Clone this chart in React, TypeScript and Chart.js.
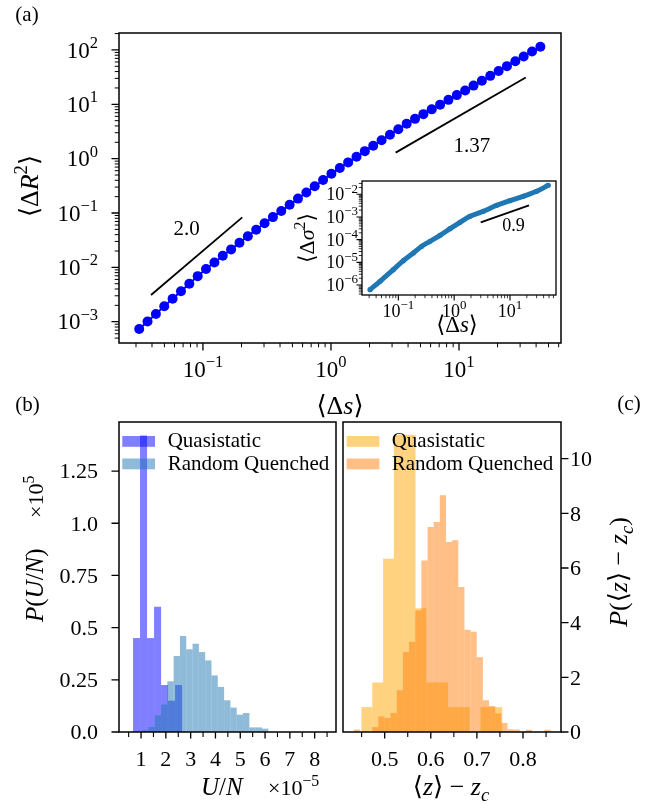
import React, { useEffect, useRef } from "react";
import { Chart, registerables } from "chart.js";

Chart.register(...registerables);

const FONT = '"Liberation Serif", "DejaVu Serif", serif';

// ---------- Panel (a): main log-log curve ----------
const dsX = [0.03177, 0.03693, 0.04291, 0.04987, 0.05796, 0.06736, 0.07829, 0.09099, 0.1057, 0.1229, 0.1428, 0.166, 0.1929, 0.2242, 0.2606, 0.3029, 0.352, 0.4091, 0.4755, 0.5526, 0.6422, 0.7464, 0.8675, 1.008, 1.172, 1.362, 1.583, 1.839, 2.138, 2.485, 2.888, 3.356, 3.9, 4.533, 5.268, 6.123, 7.116, 8.27, 9.611, 11.17, 12.98, 15.09, 17.54, 20.38, 23.68, 27.53, 31.99, 37.18, 43.21];
const dR2 = [0.000735, 0.00101, 0.00139, 0.00192, 0.00264, 0.00364, 0.00501, 0.0069, 0.00935, 0.0123, 0.0163, 0.0214, 0.0283, 0.0373, 0.0492, 0.0649, 0.0841, 0.109, 0.142, 0.184, 0.238, 0.31, 0.405, 0.527, 0.671, 0.853, 1.086, 1.374, 1.734, 2.188, 2.761, 3.483, 4.395, 5.395, 6.592, 8.072, 9.863, 12.08, 14.76, 17.95, 22.08, 27.16, 33.34, 41.02, 50.35, 61.94, 76.03, 93.54, 114.8];
const slope2X = [0.0393, 0.2027];
const slope2Y = [0.0031, 0.083];
const slope137X = [3.2, 33.2];
const slope137Y = [1.29, 31];
const aXRange = [0.0221, 62.6];
const aYRange = [4.06e-4, 205];
const aXTicks = [0.1, 1, 10];
const aXTickExp = ["\u22121", "0", "1"];
const aYTicks = [1e-3, 1e-2, 1e-1, 1, 10, 100];
const aYTickExp = ["\u22123", "\u22122", "\u22121", "0", "1", "2"];

// ---------- Inset ----------
const insX = [0.0311, 0.047, 0.0813, 0.123, 0.1858, 0.2624, 0.3698, 0.5585, 0.8433, 1.274, 1.923, 3.327, 5.781, 10.0, 17.3, 30.06, 48.53];
const insY = [6.21e-7, 1.455e-6, 4.73e-6, 1.18e-5, 2.576e-5, 5.09e-5, 8.45e-5, 1.556e-4, 3.04e-4, 5.82e-4, 1.072e-3, 1.778e-3, 3.27e-3, 5.22e-3, 8.17e-3, 1.355e-2, 2.49e-2];
const slope09X = [2.99, 21.9];
const slope09Y = [5.82e-4, 3.27e-3];
const insXRange = [0.02234, 66.7];
const insYRange = [3.63e-7, 0.0385];
const insXTicks = [0.1, 1, 10];
const insXTickExp = ["\u22121", "0", "1"];
const insYTicks = [1e-6, 1e-5, 1e-4, 1e-3, 1e-2];
const insYTickExp = ["\u22126", "\u22125", "\u22124", "\u22123", "\u22122"];

// ---------- Panel (b): U/N histograms ----------
const uQuasi = [0.45, 1.42, 0.45, 0.6, 0.225, 0.15, 0.225];
const uQuasiStart = 0.677;
const uQuasiWidth = 0.2827;
const uRQ = [0.008, 0.024, 0.08, 0.132, 0.243, 0.364, 0.46, 0.396, 0.423, 0.383, 0.343, 0.271, 0.216, 0.152, 0.117, 0.083, 0.091, 0.022, 0.022, 0.016];
const uRQStart = 1.042;
const uRQWidth = 0.2544;
const bXRange = [0.111, 8.86];
const bYRange = [0, 1.485];
const bXTicks = [1, 2, 3, 4, 5, 6, 7, 8];
const bXTickLabels = ["1", "2", "3", "4", "5", "6", "7", "8"];
const bXMinor = [0.5, 1.5, 2.5, 3.5, 4.5, 5.5, 6.5, 7.5, 8.5];
const bYTicks = [0, 0.25, 0.5, 0.75, 1.0, 1.25];
const bYTickLabels = ["0.0", "0.25", "0.5", "0.75", "1.0", "1.25"];

// ---------- Panel (c): <z>-z_c histograms ----------
const zQuasi = [0.91, 1.81, 6.34, 10.87, 10.87, 4.53, 1.81, 1.81, 0.91, 0.91, 0, 0.91, 0.91];
const zQuasiStart = 0.4495;
const zQuasiWidth = 0.02349;
const zRQ = [0.09, 0, 0, 0.18, 0.57, 0.51, 0.7, 1.53, 2.93, 3.3, 4.45, 6.27, 7.5, 7.68, 8.66, 6.95, 7.01, 5.3, 3.74, 3.67, 2.74, 1.16, 0.95, 0.68, 0.33, 0.1, 0.09, 0, 0.08, 0, 0, 0.08];
const zRQStart = 0.43286;
const zRQWidth = 0.01334;
const cXRange = [0.4096, 0.8824];
const cYRange = [0, 11.34];
const cXTicks = [0.5, 0.6, 0.7, 0.8];
const cXTickLabels = ["0.5", "0.6", "0.7", "0.8"];
const cXMinor = [0.45, 0.55, 0.65, 0.75, 0.85];
const cYTicks = [0, 2, 4, 6, 8, 10];
const cYTickLabels = ["0", "2", "4", "6", "8", "10"];

const QB = "rgba(0,0,255,0.5)";
const RB = "rgba(31,119,180,0.5)";
const QO = "rgba(255,165,0,0.5)";
const RO = "rgba(255,127,14,0.5)";

// ---------- geometry ----------
type Geo = { left: number; top: number; w: number; h: number; l: number; t: number; r: number; b: number; yRight?: boolean };
const GA: Geo = { left: 0, top: 0, w: 654, h: 420, l: 119, t: 33, r: 561, b: 343 };
const GI: Geo = { left: 290, top: 170, w: 272, h: 172, l: 362, t: 181, r: 556, b: 295 };
const GB: Geo = { left: 0, top: 390, w: 340, h: 414, l: 119, t: 422, r: 336, b: 732 };
const GC: Geo = { left: 340, top: 390, w: 314, h: 414, l: 343, t: 422, r: 561, b: 732, yRight: true };

function layoutFor(g: Geo) {
  const L = g.l - g.left, T = g.t - g.top, R = g.left + g.w - g.r, B = g.top + g.h - g.b;
  return {
    padding: { top: T, left: g.yRight ? L : 0, right: g.yRight ? 0 : R, bottom: 0 },
    yWidth: g.yRight ? R : L,
    xHeight: B,
  };
}

const zip = (xs: number[], ys: number[]) => xs.map((x, i) => ({ x, y: ys[i] }));
const bins = (vals: number[], start: number, w: number) => vals.map((v, i) => ({ x: start + (i + 0.5) * w, y: v }));

function logMinors(min: number, max: number) {
  const out: number[] = [];
  for (let e = Math.floor(Math.log10(min)); e <= Math.ceil(Math.log10(max)); e++) {
    for (let m = 2; m <= 9; m++) {
      const v = m * Math.pow(10, e);
      if (v >= min && v <= max) out.push(v);
    }
  }
  return out;
}

type Part = { t: string; it?: boolean; sup?: boolean; sub?: boolean };
function fontFor(p: Part, size: number) {
  const s = p.sup || p.sub ? size * 0.72 : size;
  return `${p.it ? "italic " : ""}${s}px ${FONT}`;
}
function drawRich(ctx: CanvasRenderingContext2D, parts: Part[], x: number, y: number, size: number, align = "center", rot = 0) {
  ctx.save();
  ctx.translate(x, y);
  if (rot) ctx.rotate(rot);
  ctx.textBaseline = "alphabetic";
  ctx.textAlign = "left";
  ctx.fillStyle = "#000";
  let w = 0;
  for (const p of parts) {
    ctx.font = fontFor(p, size);
    w += ctx.measureText(p.t).width;
  }
  let cx = align === "left" ? 0 : align === "center" ? -w / 2 : -w;
  for (const p of parts) {
    ctx.font = fontFor(p, size);
    const dy = p.sup ? -size * 0.42 : p.sub ? size * 0.22 : 0;
    ctx.fillText(p.t, cx, dy);
    cx += ctx.measureText(p.t).width;
  }
  ctx.restore();
}

function frame(ctx: CanvasRenderingContext2D, a: any, lw = 1.5) {
  ctx.save();
  ctx.strokeStyle = "#000";
  ctx.lineWidth = lw;
  ctx.strokeRect(a.left, a.top, a.right - a.left, a.bottom - a.top);
  ctx.restore();
}

function marks(ctx: CanvasRenderingContext2D, chart: any, axis: string, side: string, values: number[], len: number, lw: number) {
  const s = chart.scales[axis];
  const a = chart.chartArea;
  ctx.save();
  ctx.strokeStyle = "#000";
  ctx.lineWidth = lw;
  ctx.beginPath();
  for (const v of values) {
    const p = s.getPixelForValue(v);
    if (side === "bottom") { ctx.moveTo(p, a.bottom); ctx.lineTo(p, a.bottom + len); }
    else if (side === "left") { ctx.moveTo(a.left - len, p); ctx.lineTo(a.left, p); }
    else { ctx.moveTo(a.right, p); ctx.lineTo(a.right + len, p); }
  }
  ctx.stroke();
  ctx.restore();
}

function labels(ctx: CanvasRenderingContext2D, chart: any, axis: string, side: string, values: number[], texts: string[], size: number, off: number, log: boolean) {
  const s = chart.scales[axis];
  const a = chart.chartArea;
  values.forEach((v, i) => {
    const p = s.getPixelForValue(v);
    const parts: Part[] = log ? [{ t: "10" }, { t: texts[i], sup: true }] : [{ t: texts[i] }];
    if (side === "bottom") drawRich(ctx, parts, p, a.bottom + off, size, "center");
    else if (side === "left") drawRich(ctx, parts, a.left - off, p + size * 0.33, size, "right");
    else drawRich(ctx, parts, a.right + off, p + size * 0.33, size, "left");
  });
}

const hid = () => ({ grid: { display: false }, border: { display: false }, ticks: { display: false } });

function baseOptions(g: Geo, scales: any) {
  return {
    animation: false,
    responsive: false,
    events: [],
    layout: { padding: layoutFor(g).padding },
    plugins: { legend: { display: false }, tooltip: { enabled: false } },
    scales,
  };
}

function cfgA(): any {
  const lay = layoutFor(GA);
  return {
    type: "scatter",
    data: {
      datasets: [
        { data: zip(dsX, dR2), showLine: true, borderColor: "#0000ff", backgroundColor: "#0000ff", borderWidth: 2, pointRadius: 5, pointBorderWidth: 0 },
        { data: zip(slope2X, slope2Y), showLine: true, borderColor: "#000", borderWidth: 1.8, pointRadius: 0 },
        { data: zip(slope137X, slope137Y), showLine: true, borderColor: "#000", borderWidth: 1.8, pointRadius: 0 },
      ],
    },
    options: baseOptions(GA, {
      x: { type: "logarithmic", min: aXRange[0], max: aXRange[1], position: "bottom", ...hid(), afterFit: (s: any) => { s.height = lay.xHeight; } },
      y: { type: "logarithmic", min: aYRange[0], max: aYRange[1], position: "left", ...hid(), afterFit: (s: any) => { s.width = lay.yWidth; } },
    }),
    plugins: [{
      id: "decorA",
      afterDraw(chart: any) {
        const ctx = chart.ctx;
        frame(ctx, chart.chartArea);
        marks(ctx, chart, "x", "bottom", aXTicks, 7.5, 1.3);
        marks(ctx, chart, "x", "bottom", logMinors(aXRange[0], aXRange[1]), 4.3, 1);
        marks(ctx, chart, "y", "left", aYTicks, 7.5, 1.3);
        marks(ctx, chart, "y", "left", logMinors(aYRange[0], aYRange[1]), 4.3, 1);
        labels(ctx, chart, "x", "bottom", aXTicks, aXTickExp, 23, 34, true);
        labels(ctx, chart, "y", "left", aYTicks, aYTickExp, 23, 21, true);
        const sx = chart.scales.x, sy = chart.scales.y;
        ctx.save();
        ctx.font = `21px ${FONT}`;
        ctx.textAlign = "center";
        ctx.textBaseline = "middle";
        ctx.fillStyle = "#000";
        ctx.fillText("2.0", sx.getPixelForValue(0.0746), sy.getPixelForValue(0.0507));
        ctx.fillText("1.37", sx.getPixelForValue(12.6), sy.getPixelForValue(1.66));
        ctx.restore();
        drawRich(ctx, [{ t: "\u27E8\u0394" }, { t: "R", it: true }, { t: "2", sup: true }, { t: "\u27E9" }], 38, 186, 26, "center", -Math.PI / 2);
        drawRich(ctx, [{ t: "\u27E8\u0394" }, { t: "s", it: true }, { t: "\u27E9" }], 340, 414, 26, "center");
        drawRich(ctx, [{ t: "(a)" }], 27, 21, 21, "center");
      },
    }],
  };
}

function cfgI(): any {
  const lay = layoutFor(GI);
  return {
    type: "scatter",
    data: {
      datasets: [
        { data: zip(insX, insY), showLine: true, borderColor: "#1f77b4", backgroundColor: "#1f77b4", borderWidth: 5, pointRadius: 2.6, pointBorderWidth: 0, cubicInterpolationMode: "monotone" },
        { data: zip(slope09X, slope09Y), showLine: true, borderColor: "#000", borderWidth: 1.8, pointRadius: 0 },
      ],
    },
    options: baseOptions(GI, {
      x: { type: "logarithmic", min: insXRange[0], max: insXRange[1], position: "bottom", ...hid(), afterFit: (s: any) => { s.height = lay.xHeight; } },
      y: { type: "logarithmic", min: insYRange[0], max: insYRange[1], position: "left", ...hid(), afterFit: (s: any) => { s.width = lay.yWidth; } },
    }),
    plugins: [{
      id: "decorI",
      beforeDatasetsDraw(chart: any) {
        const a = chart.chartArea;
        chart.ctx.save();
        chart.ctx.fillStyle = "#fff";
        chart.ctx.fillRect(a.left, a.top, a.right - a.left, a.bottom - a.top);
        chart.ctx.restore();
      },
      afterDraw(chart: any) {
        const ctx = chart.ctx;
        frame(ctx, chart.chartArea, 1.3);
        marks(ctx, chart, "x", "bottom", insXTicks, 5.5, 1.1);
        marks(ctx, chart, "x", "bottom", logMinors(insXRange[0], insXRange[1]), 3.2, 0.8);
        marks(ctx, chart, "y", "left", insYTicks, 5.5, 1.1);
        marks(ctx, chart, "y", "left", logMinors(insYRange[0], insYRange[1]), 3.2, 0.8);
        labels(ctx, chart, "x", "bottom", insXTicks, insXTickExp, 18, 22, true);
        labels(ctx, chart, "y", "left", insYTicks, insYTickExp, 18, 4, true);
        const sx = chart.scales.x, sy = chart.scales.y;
        ctx.save();
        ctx.font = `18px ${FONT}`;
        ctx.textAlign = "center";
        ctx.textBaseline = "middle";
        ctx.fillStyle = "#000";
        ctx.fillText("0.9", sx.getPixelForValue(11.5), sy.getPixelForValue(3.88e-4));
        ctx.restore();
        drawRich(ctx, [{ t: "\u27E8\u0394" }, { t: "\u03C3", it: true }, { t: "2", sup: true }, { t: "\u27E9" }], 314 - GI.left, 238 - GI.top, 22, "center", -Math.PI / 2);
        drawRich(ctx, [{ t: "\u27E8\u0394" }, { t: "s", it: true }, { t: "\u27E9" }], 457 - GI.left, 332 - GI.top, 23, "center");
      },
    }],
  };
}

function legend(ctx: CanvasRenderingContext2D, g: Geo, px: number, tx: number, c1: string, c2: string) {
  ctx.save();
  ctx.fillStyle = c1;
  ctx.fillRect(px - g.left, 436 - g.top, 32.7, 10.8);
  ctx.fillStyle = c2;
  ctx.fillRect(px - g.left, 458.5 - g.top, 32.7, 10.8);
  ctx.restore();
  drawRich(ctx, [{ t: "Quasistatic" }], tx - g.left, 447 - g.top, 21, "left");
  drawRich(ctx, [{ t: "Random Quenched" }], tx - g.left, 470 - g.top, 21, "left");
}

function histCfg(g: Geo, q: any[], rq: any[], qc: string, rc: string, xr: number[], yr: number[], decor: (chart: any) => void): any {
  const lay = layoutFor(g);
  const barOpts = { barPercentage: 1, categoryPercentage: 1, grouped: false, borderWidth: 0, inflateAmount: 0 };
  return {
    type: "bar",
    data: {
      datasets: [
        { label: "Random Quenched", data: rq, xAxisID: "x2", yAxisID: "y", backgroundColor: rc, order: 1, ...barOpts },
        { label: "Quasistatic", data: q, xAxisID: "x", yAxisID: "y", backgroundColor: qc, order: 2, ...barOpts },
      ],
    },
    options: baseOptions(g, {
      x: { type: "linear", min: xr[0], max: xr[1], offset: false, position: "bottom", ...hid(), afterFit: (s: any) => { s.height = lay.xHeight; } },
      x2: { type: "linear", min: xr[0], max: xr[1], offset: false, position: "bottom", display: false },
      y: { type: "linear", min: yr[0], max: yr[1], position: g.yRight ? "right" : "left", ...hid(), afterFit: (s: any) => { s.width = lay.yWidth; } },
    }),
    plugins: [{ id: "decorH", afterDraw: decor }],
  };
}

function cfgB(): any {
  return histCfg(GB, bins(uQuasi, uQuasiStart, uQuasiWidth), bins(uRQ, uRQStart, uRQWidth), QB, RB, bXRange, bYRange, (chart: any) => {
    const ctx = chart.ctx;
    frame(ctx, chart.chartArea);
    marks(ctx, chart, "x", "bottom", bXTicks, 6.5, 1.3);
    marks(ctx, chart, "x", "bottom", bXMinor, 5, 1.1);
    marks(ctx, chart, "y", "left", bYTicks, 7.5, 1.3);
    labels(ctx, chart, "x", "bottom", bXTicks, bXTickLabels, 22, 34, false);
    labels(ctx, chart, "y", "left", bYTicks, bYTickLabels, 22, 21, false);
    legend(ctx, GB, 122.3, 167.7, QB, RB);
    // y title, reading upwards: "P(U/N)" then "×10^5"
    drawRich(ctx, [{ t: "P", it: true }, { t: "(" }, { t: "U", it: true }, { t: "/" }, { t: "N", it: true }, { t: ")" }], 43 - GB.left, 622 - GB.top, 25, "left", -Math.PI / 2);
    drawRich(ctx, [{ t: "\u00D710" }, { t: "5", sup: true }], 43 - GB.left, 518 - GB.top, 22, "left", -Math.PI / 2);
    // x title
    drawRich(ctx, [{ t: "U", it: true }, { t: "/" }, { t: "N", it: true }], 201 - GB.left, 795 - GB.top, 25, "left");
    drawRich(ctx, [{ t: "\u00D710" }, { t: "\u22125", sup: true }], 268 - GB.left, 795 - GB.top, 22, "left");
    drawRich(ctx, [{ t: "(b)" }], 27.5 - GB.left, 411 - GB.top, 21, "center");
  });
}

function cfgC(): any {
  return histCfg(GC, bins(zQuasi, zQuasiStart, zQuasiWidth), bins(zRQ, zRQStart, zRQWidth), QO, RO, cXRange, cYRange, (chart: any) => {
    const ctx = chart.ctx;
    frame(ctx, chart.chartArea);
    marks(ctx, chart, "x", "bottom", cXTicks, 6.5, 1.3);
    marks(ctx, chart, "x", "bottom", cXMinor, 5, 1.1);
    marks(ctx, chart, "y", "right", cYTicks, 7.5, 1.3);
    labels(ctx, chart, "x", "bottom", cXTicks, cXTickLabels, 22, 34, false);
    labels(ctx, chart, "y", "right", cYTicks, cYTickLabels, 22, 9, false);
    legend(ctx, GC, 346.7, 391.7, QO, RO);
    drawRich(ctx, [{ t: "\u27E8" }, { t: "z", it: true }, { t: "\u27E9 \u2212 " }, { t: "z", it: true }, { t: "c", it: true, sub: true }], 451 - GC.left, 795 - GC.top, 26, "center");
    drawRich(ctx, [{ t: "P", it: true }, { t: "(\u27E8" }, { t: "z", it: true }, { t: "\u27E9 \u2212 " }, { t: "z", it: true }, { t: "c", it: true, sub: true }, { t: ")" }], 627 - GC.left, 572 - GC.top, 26, "center", -Math.PI / 2);
    drawRich(ctx, [{ t: "(c)" }], 629 - GC.left, 410 - GC.top, 21, "center");
  });
}

export default function App() {
  const refA = useRef<HTMLCanvasElement>(null);
  const refI = useRef<HTMLCanvasElement>(null);
  const refB = useRef<HTMLCanvasElement>(null);
  const refC = useRef<HTMLCanvasElement>(null);

  useEffect(() => {
    document.body.style.margin = "0";
    const charts: Chart[] = [];
    charts.push(new Chart(refA.current as HTMLCanvasElement, cfgA()));
    charts.push(new Chart(refI.current as HTMLCanvasElement, cfgI()));
    charts.push(new Chart(refB.current as HTMLCanvasElement, cfgB()));
    charts.push(new Chart(refC.current as HTMLCanvasElement, cfgC()));
    return () => charts.forEach((c) => c.destroy());
  }, []);

  const st = (g: Geo): React.CSSProperties => ({ position: "absolute", left: g.left, top: g.top, width: g.w, height: g.h });

  return (
    <div style={{ position: "relative", width: 654, height: 804, background: "#fff", overflow: "hidden" }}>
      <canvas ref={refA} width={GA.w} height={GA.h} style={st(GA)} />
      <canvas ref={refB} width={GB.w} height={GB.h} style={st(GB)} />
      <canvas ref={refC} width={GC.w} height={GC.h} style={st(GC)} />
      <canvas ref={refI} width={GI.w} height={GI.h} style={st(GI)} />
    </div>
  );
}
